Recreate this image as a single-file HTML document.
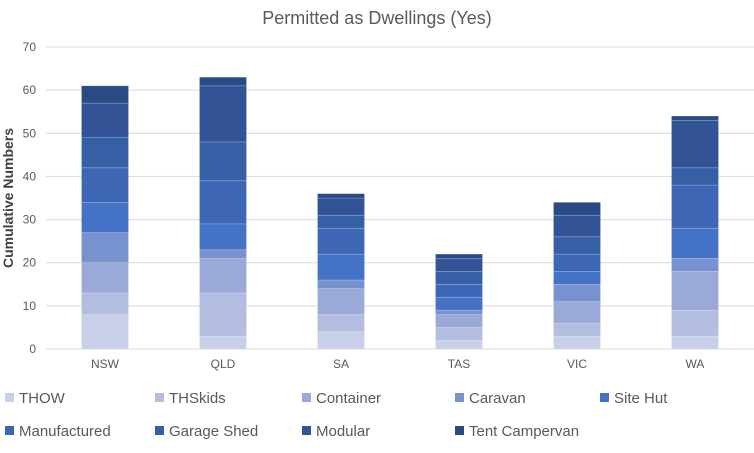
<!DOCTYPE html>
<html><head><meta charset="utf-8"><style>
body{margin:0;background:#fff;font-family:"Liberation Sans",sans-serif;}
svg text{font-family:"Liberation Sans",sans-serif;fill:#595959;}
</style></head><body>
<svg id="chart" width="754" height="448" viewBox="0 0 754 448">
<text x="377" y="24" text-anchor="middle" font-size="18">Permitted as Dwellings (Yes)</text>
<text transform="translate(13,198) rotate(-90)" text-anchor="middle" font-size="14" font-weight="bold" style="fill:#404040">Cumulative Numbers</text>
<g id="grid"></g><g id="bars"></g><g id="xlabels"></g><g id="legend"></g>
</svg>
<script>
const categories=["NSW","QLD","SA","TAS","VIC","WA"];
const seriesNames=["THOW","THSkids","Container","Caravan","Site Hut","Manufactured","Garage Shed","Modular","Tent Campervan"];
const THOW=[8,3,4,2,3,3];
const THSkids=[5,10,4,3,3,6];
const Container=[7,8,6,3,5,9];
const Caravan=[7,2,2,1,4,3];
const SiteHut=[7,6,6,3,3,7];
const Manufactured=[8,10,6,3,4,10];
const GarageShed=[7,9,3,3,4,4];
const Modular=[8,13,4,3,5,11];
const TentCampervan=[4,2,1,1,3,1];
const yTicks=[0,10,20,30,40,50,60,70];
const series=[THOW,THSkids,Container,Caravan,SiteHut,Manufactured,GarageShed,Modular,TentCampervan];
const colors=["#c9cfe8","#b3bde0","#9aa9d8","#7891cf","#4472c4","#3d67b5","#365fa6","#325497","#2a4a85"];
const NS="http://www.w3.org/2000/svg";
const x0=46,band=118,y0=349,yTop=47,yMax=70,bw=47;
const y=v=>y0-(v/yMax)*(y0-yTop);
const xc=i=>x0+band*i+band/2;
function mk(t,a,p){const e=document.createElementNS(NS,t);for(const k in a)e.setAttribute(k,a[k]);p.appendChild(e);return e;}
const grid=document.getElementById('grid');
yTicks.forEach(t=>{
 const l=mk('line',{x1:x0,x2:754,y1:y(t),y2:y(t),stroke:'#d9d9d9','stroke-width':1},grid);
 
 
 const tx=mk('text',{x:36,y:y(t)+4,'text-anchor':'end','font-size':12},grid);
 tx.textContent=t;
 
 
});
const bars=document.getElementById('bars');
categories.forEach((c,i)=>{
 let cum=0;
 series.forEach((s,j)=>{
  const v=s[i];
  const r=mk('rect',{x:xc(i)-bw/2,y:y(cum+v),width:bw,height:y(cum)-y(cum+v),fill:colors[j],stroke:'rgba(255,255,255,0.25)','stroke-width':0.7},bars);
  
  
  cum+=v;
 });
 const t=mk('text',{x:xc(i),y:368,'text-anchor':'middle','font-size':12},document.getElementById('xlabels'));
 t.textContent=c;
 
 
});
const lg=document.getElementById('legend');
const lx=[5,155,302,455,600];
seriesNames.forEach((n,j)=>{
 const col=j%5,row=Math.floor(j/5);
 const gy=row?431:398;
 const g=mk('g',{},lg);
 
 
 mk('rect',{x:lx[col],y:gy-5,width:9,height:9,fill:colors[j]},g);
 const t=mk('text',{x:lx[col]+14,y:gy+5,'font-size':15},g);
 t.textContent=n;
});
</script>
</body></html>
